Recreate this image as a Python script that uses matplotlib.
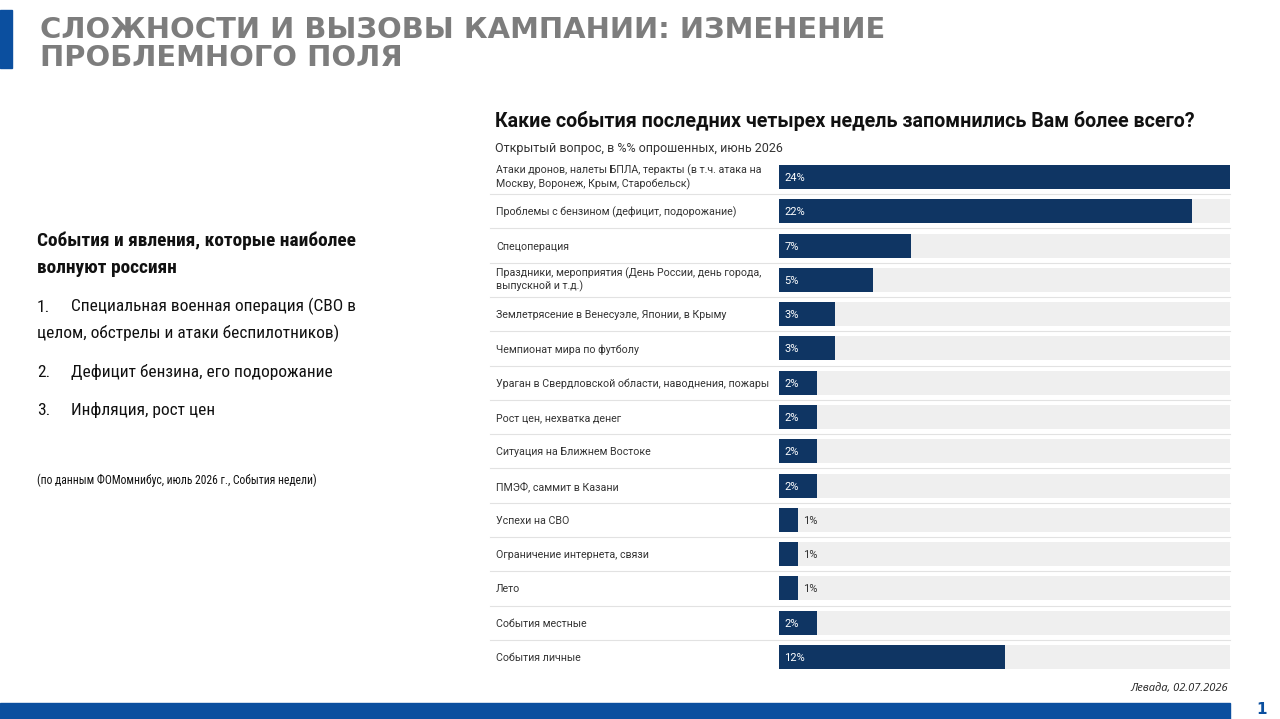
import matplotlib
matplotlib.use("Agg")
import matplotlib.pyplot as plt
from matplotlib import font_manager as fm
from matplotlib.transforms import blended_transform_factory
from matplotlib.patches import Rectangle

categories = [
    "Атаки дронов, налеты БПЛА, теракты (в т.ч. атака на\nМоскву, Воронеж, Крым, Старобельск)",
    "Проблемы с бензином (дефицит, подорожание)",
    "Спецоперация",
    "Праздники, мероприятия (День России, день города,\nвыпускной и т.д.)",
    "Землетрясение в Венесуэле, Японии, в Крыму",
    "Чемпионат мира по футболу",
    "Ураган в Свердловской области, наводнения, пожары",
    "Рост цен, нехватка денег",
    "Ситуация на Ближнем Востоке",
    "ПМЭФ, саммит в Казани",
    "Успехи на СВО",
    "Ограничение интернета, связи",
    "Лето",
    "События местные",
    "События личные",
]
values = [24, 22, 7, 5, 3, 3, 2, 2, 2, 2, 1, 1, 1, 2, 12]
value_labels = ["24%", "22%", "7%", "5%", "3%", "3%", "2%", "2%", "2%", "2%",
                "1%", "1%", "1%", "2%", "12%"]

header_lines = ["СЛОЖНОСТИ И ВЫЗОВЫ КАМПАНИИ: ИЗМЕНЕНИЕ", "ПРОБЛЕМНОГО ПОЛЯ"]
chart_title = "Какие события последних четырех недель запомнились Вам более всего?"
chart_subtitle = "Открытый вопрос, в %% опрошенных, июнь 2026"
left_heading_lines = ["События и явления, которые наиболее", "волнуют россиян"]
left_nums = ["1.", "2.", "3."]
left_item_lines = [["Специальная военная операция (СВО в", "целом, обстрелы и атаки беспилотников)"],
                   ["Дефицит бензина, его подорожание"],
                   ["Инфляция, рост цен"]]
left_note = "(по данным ФОМомнибус, июль 2026 г., События недели)"
source = "Левада, 02.07.2026"
page_no = "1"

NAVY = "#0f3563"
TRACK = "#efefef"
BLUE = "#0b4f9f"
TXT = "#111111"
W, H = 1280, 719


def pick_condensed():
    entries = fm.fontManager.ttflist
    names = {e.name for e in entries}
    for n in ["Liberation Sans Narrow", "Roboto Condensed", "Noto Sans Condensed",
              "Open Sans Condensed", "DejaVu Sans Condensed", "Arial Narrow"]:
        if n in names:
            return dict(family=[n, "DejaVu Sans"])
    for fam in ["Noto Sans", "Open Sans", "DejaVu Sans", "Roboto"]:
        for e in entries:
            if e.name == fam and str(e.stretch) in ("condensed", "semi-condensed", "extra-condensed"):
                return dict(family=[fam, "DejaVu Sans"], stretch="condensed")
    return dict(family=["Roboto", "DejaVu Sans"])


COND = pick_condensed()
ROBOTO = ["Roboto", "DejaVu Sans"]

fig = plt.figure(figsize=(W / 100, H / 100), dpi=100)
fig.patch.set_facecolor("white")
renderer = fig.canvas.get_renderer()


def fx(px):
    return px / W


def fy(py):
    return 1 - py / H


def fit(t, width_px):
    w = t.get_window_extent(renderer=renderer).width
    if w > 0:
        t.set_fontsize(t.get_fontsize() * width_px / w)
    return t.get_fontsize()


# decorative shapes
fig.patches.append(Rectangle((0, fy(68)), fx(12), (68 - 10) / H, transform=fig.transFigure,
                             color=BLUE, zorder=0))
fig.patches.append(Rectangle((0, 0), fx(1230), 16 / H, transform=fig.transFigure,
                             color=BLUE, zorder=0))
fig.text(fx(1262), fy(709), page_no, fontsize=11, fontweight="bold", color=BLUE,
         ha="center", va="center", family=["DejaVu Sans"])

# header
h1 = fig.text(fx(40), fy(38), header_lines[0], fontsize=19.5, fontweight="heavy", color="#7d7d7d",
              ha="left", va="baseline", family=["DejaVu Sans"])
hs = fit(h1, 848)
fig.text(fx(40), fy(66), header_lines[1], fontsize=hs, fontweight="heavy", color="#7d7d7d",
         ha="left", va="baseline", family=["DejaVu Sans"])

# left text block
lh = fig.text(fx(37), fy(245.5), left_heading_lines[0], fontsize=14, fontweight="bold", color=TXT,
              ha="left", va="baseline", **COND)
hsz = fit(lh, 320)
fig.text(fx(37), fy(273), left_heading_lines[1], fontsize=hsz, fontweight="bold", color=TXT,
         ha="left", va="baseline", **COND)

t1 = fig.text(fx(71), fy(311.5), left_item_lines[0][0], fontsize=14, color=TXT, ha="left",
              va="baseline", **COND)
bs = fit(t1, 286)
fig.text(fx(37), fy(338), left_item_lines[0][1], fontsize=bs, color=TXT, ha="left",
         va="baseline", **COND)
for k, (num, lines, y) in enumerate(zip(left_nums, left_item_lines, [311.5, 377, 415])):
    fig.text(fx(37), fy(y), num, fontsize=bs, color=TXT, ha="left", va="baseline", **COND)
    if k > 0:
        fig.text(fx(71), fy(y), lines[0], fontsize=bs, color=TXT, ha="left", va="baseline", **COND)
nt = fig.text(fx(37), fy(484), left_note, fontsize=10, color=TXT, ha="left", va="baseline", **COND)
fit(nt, 279)

# chart title
tt = fig.text(fx(495), fy(127), chart_title, fontsize=15, fontweight="bold", color=TXT,
              ha="left", va="baseline", family=ROBOTO)
fit(tt, 702)
st = fig.text(fx(495), fy(152), chart_subtitle, fontsize=9.5, color="#333333",
              ha="left", va="baseline", family=ROBOTO)
fit(st, 288)

# bars axes
n = len(values)
top_c, bot_c = 177, 657
step = (bot_c - top_c) / (n - 1)
ax_top = top_c - step / 2
ax_bot = bot_c + step / 2
ax = fig.add_axes([fx(779), fy(ax_bot), fx(1230) - fx(779), (ax_bot - ax_top) / H])
ax.set_xlim(0, 24)
ax.set_ylim(n - 0.5, -0.5)
ax.axis("off")

ypos = list(range(n))
ax.barh(ypos, [max(values)] * n, height=0.7, color=TRACK, zorder=1)
ax.barh(ypos, values, height=0.7, color=NAVY, zorder=2)

for i, (v, lab) in enumerate(zip(values, value_labels)):
    if v >= 2:
        ax.text(0.28, i, lab, color="white", fontsize=8, va="center_baseline", ha="left", zorder=3,
                family=ROBOTO)
    else:
        ax.text(v + 0.27, i, lab, color="#333333", fontsize=8, va="center_baseline", ha="left",
                zorder=3, family=ROBOTO)

tr = blended_transform_factory(fig.transFigure, ax.transData)
probe = fig.text(0, 0, categories[1], fontsize=8, family=ROBOTO)
lsize = fit(probe, 242)
probe.remove()
for i, c in enumerate(categories):
    fig.text(fx(496), i, c, transform=tr, fontsize=lsize, color="#333333", ha="left",
             va="center_baseline" if "\n" not in c else "center",
             family=ROBOTO, linespacing=1.25)

# separators
for i in range(n - 1):
    fig.add_artist(plt.Line2D([fx(490), fx(1230)], [i + 0.5, i + 0.5], transform=tr,
                              color="#e2e2e2", lw=0.8, zorder=0))

fig.text(fx(1228), fy(688), source, fontsize=8, style="italic", color="#222222",
         ha="right", va="center", family=["Open Sans", "DejaVu Sans"])

fig.savefig("out.png", dpi=100)
